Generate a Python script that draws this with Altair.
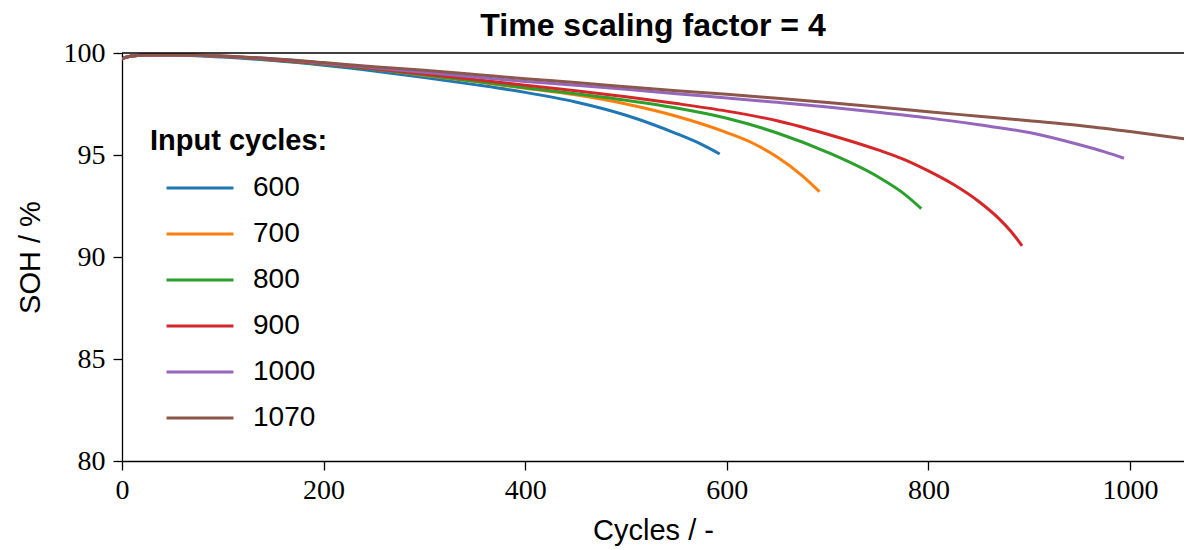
import altair as alt
import pandas as pd

series_labels = ["600", "700", "800", "900", "1000", "1070"]
colors = ["#1f77b4", "#ff7f0e", "#2ca02c", "#d62728", "#9467bd", "#8c564b"]

c_600 = [0, 10, 25, 50, 100, 150, 200, 250, 300, 350, 400, 450, 500, 550, 575, 593]
s_600 = [99.72, 99.85, 99.9, 99.9, 99.8, 99.63, 99.4, 99.12, 98.8, 98.45, 98.07, 97.6, 96.95, 96.05, 95.52, 95.05]

c_700 = [0, 10, 25, 50, 100, 150, 200, 250, 300, 350, 400, 450, 500, 550, 600, 625, 650, 675, 692]
s_700 = [99.72, 99.85, 99.9, 99.92, 99.85, 99.68, 99.47, 99.22, 98.9, 98.6, 98.27, 97.95, 97.5, 96.9, 96.1, 95.6, 94.9, 93.98, 93.2]

c_800 = [0, 10, 25, 50, 100, 150, 200, 250, 300, 350, 400, 450, 500, 550, 600, 650, 700, 750, 775, 793]
s_800 = [99.72, 99.85, 99.9, 99.9, 99.83, 99.66, 99.45, 99.2, 98.92, 98.62, 98.3, 98.0, 97.68, 97.3, 96.8, 96.08, 95.13, 93.93, 93.13, 92.37]

c_900 = [0, 10, 25, 50, 100, 150, 200, 250, 300, 350, 400, 450, 500, 550, 600, 650, 700, 750, 775, 800, 825, 850, 870, 882, 893]
s_900 = [99.72, 99.85, 99.9, 99.9, 99.83, 99.67, 99.47, 99.23, 98.97, 98.7, 98.42, 98.15, 97.85, 97.52, 97.15, 96.68, 96.02, 95.25, 94.8, 94.22, 93.55, 92.72, 91.88, 91.25, 90.55]

c_1000 = [0, 10, 25, 50, 100, 150, 200, 250, 300, 350, 400, 450, 500, 550, 600, 650, 700, 750, 800, 850, 900, 950, 975, 994]
s_1000 = [99.72, 99.85, 99.9, 99.9, 99.84, 99.7, 99.5, 99.28, 99.05, 98.82, 98.6, 98.42, 98.22, 98.0, 97.8, 97.58, 97.35, 97.1, 96.82, 96.48, 96.1, 95.5, 95.15, 94.84]

c_1070 = [0, 10, 25, 50, 100, 150, 200, 250, 300, 350, 400, 450, 500, 550, 600, 650, 700, 750, 800, 850, 900, 950, 1000, 1062]
s_1070 = [99.72, 99.85, 99.9, 99.9, 99.85, 99.72, 99.53, 99.33, 99.15, 98.95, 98.74, 98.55, 98.35, 98.15, 97.98, 97.78, 97.57, 97.35, 97.12, 96.9, 96.68, 96.45, 96.15, 95.74]

x_ticks = [0, 200, 400, 600, 800, 1000]
y_ticks = [80, 85, 90, 95, 100]

all_c = [c_600, c_700, c_800, c_900, c_1000, c_1070]
all_s = [s_600, s_700, s_800, s_900, s_1000, s_1070]

rows = []
for lab, cs, ss in zip(series_labels, all_c, all_s):
    for i, (c, s) in enumerate(zip(cs, ss)):
        rows.append({"cycles": c, "soh": s, "series": lab, "order": i})
df = pd.DataFrame(rows)

SANS = "Liberation Sans"
SERIF = "Liberation Serif"

x_enc = alt.X(
    "cycles:Q",
    title="Cycles / -",
    scale=alt.Scale(domain=[0, 1053.6], nice=False, zero=False),
    axis=alt.Axis(values=x_ticks, format="d", labelFont=SERIF, labelFontSize=28,
                  labelPadding=6, titlePadding=12, labelFlush=False),
)
y_enc = alt.Y(
    "soh:Q",
    title="SOH / %",
    scale=alt.Scale(domain=[80, 100], nice=False, zero=False),
    axis=alt.Axis(values=y_ticks, labelFont=SERIF, labelFontSize=28,
                  labelPadding=8, titlePadding=18),
)

lines = (
    alt.Chart(df)
    .mark_line(strokeWidth=3, clip=True, interpolate="monotone")
    .encode(
        x=x_enc,
        y=y_enc,
        color=alt.Color(
            "series:N",
            sort=series_labels,
            scale=alt.Scale(domain=series_labels, range=colors),
            legend=alt.Legend(
                title="Input cycles:",
                orient="none",
                legendX=28,
                legendY=74,
                symbolType="M-3,0H3",
                symbolSize=498,
                symbolStrokeWidth=3,
                symbolOffset=36,
                rowPadding=18,
                labelOffset=39,
                labelFont=SANS,
                labelFontSize=28,
                labelColor="black",
                titleFont=SANS,
                titleFontSize=29,
                titleFontWeight="bold",
                titleColor="black",
                titlePadding=18,
            ),
        ),
        order="order:Q",
    )
)

top_spine = (
    alt.Chart(pd.DataFrame({"soh": [100]}))
    .mark_rule(color="black", strokeWidth=1.3)
    .encode(y=alt.Y("soh:Q"))
)

chart = (
    alt.layer(lines, top_spine)
    .properties(
        width=1062,
        height=408,
        title=alt.TitleParams(
            "Time scaling factor = 4",
            font=SANS,
            fontSize=32,
            fontWeight="bold",
            color="black",
            anchor="middle",
            frame="group",
            offset=0,
            dy=4,
        ),
        autosize=alt.AutoSizeParams(type="none"),
        padding={"left": 114, "top": 45, "right": 0, "bottom": 88},
    )
    .configure_axis(
        domainColor="black",
        domainWidth=1.3,
        tickColor="black",
        tickSize=9,
        tickWidth=1.3,
        grid=False,
        labelColor="black",
        titleFont=SANS,
        titleFontSize=29,
        titleFontWeight="normal",
        titleColor="black",
    )
    .configure_view(strokeWidth=0)
)

chart.save("out.html", embed_options={"renderer": "svg", "actions": False})
